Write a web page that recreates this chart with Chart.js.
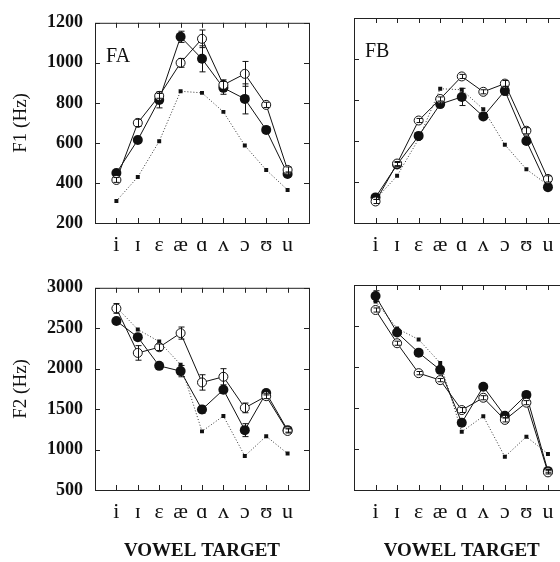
<!DOCTYPE html>
<html>
<head>
<meta charset="utf-8">
<script src="https://cdn.jsdelivr.net/npm/chart.js@4.4.1/dist/chart.umd.min.js"></script>
<style>
  html, body { margin: 0; padding: 0; background: #fff; overflow: hidden; width: 560px; height: 562px; }
  body { position: relative; }
  .panel { position: absolute; }
</style>
</head>
<body>
<div class="panel" style="left:0;top:0;width:330px;height:265px"><canvas id="faF1"></canvas></div>
<div class="panel" style="left:330px;top:0;width:250px;height:265px"><canvas id="fbF1"></canvas></div>
<div class="panel" style="left:0;top:265px;width:330px;height:297px"><canvas id="faF2"></canvas></div>
<div class="panel" style="left:330px;top:265px;width:250px;height:297px"><canvas id="fbF2"></canvas></div>
<script>
const vowels = ['i', 'ɪ', 'ɛ', 'æ', 'ɑ', 'ʌ', 'ɔ', 'ʊ', 'u'];

// FA, F1
const faF1Open = [415, 700, 835, 1000, 1120, 890, 945, 790, 465];
const faF1OpenErr = [12, 18, 12, 22, 44, 25, 62, 13, 15];
const faF1Filled = [450, 615, 815, 1130, 1020, 875, 820, 665, 445];
const faF1FilledErr = [10, 10, 40, 28, 65, 32, 75, 13, 10];
const faF1Target = [310, 430, 608, 858, 850, 755, 587, 465, 365];

// FB, F1
const fbF1Open = [305, 490, 700, 805, 915, 840, 880, 650, 415];
const fbF1OpenErr = [10, 10, 10, 10, 10, 10, 15, 15, 15];
const fbF1Filled = [325, 485, 625, 780, 815, 720, 845, 600, 375];
const fbF1FilledErr = [10, 10, 10, 10, 42, 10, 22, 10, 10];
const fbF1Target = [315, 430, 610, 855, 850, 755, 582, 462, 385];

// FA, F2
const faF2Open = [2745, 2195, 2265, 2440, 1830, 1900, 1515, 1660, 1230];
const faF2OpenErr = [60, 90, 40, 75, 95, 100, 60, 30, 25];
const faF2Filled = [2590, 2390, 2035, 1970, 1495, 1740, 1240, 1700, 1240];
const faF2FilledErr = [20, 20, 20, 70, 45, 25, 80, 25, 25];
const faF2Target = [2760, 2485, 2335, 2050, 1225, 1415, 920, 1165, 950];

// FB, F2
const fbF2Open = [2695, 2290, 1925, 1840, 1475, 1625, 1355, 1565, 715];
const fbF2OpenErr = [25, 25, 20, 20, 30, 25, 25, 25, 20];
const fbF2Filled = [2865, 2420, 2175, 1965, 1320, 1760, 1405, 1660, 730];
const fbF2FilledErr = [65, 25, 20, 25, 30, 25, 25, 30, 20];
const fbF2Target = [2800, 2470, 2335, 2050, 1210, 1400, 905, 1150, 940];

const serif = "'Liberation Serif', 'DejaVu Serif', serif";
const ink = '#111';

function toPts(arr) {
    return arr.map((v, i) => ({ x: i, y: v }));
}

// box around the plot with short ticks pointing inward, plus the speaker label
const frame = {
    id: 'frame',
    afterDraw(chart, args, opts) {
        const { ctx, chartArea: a, scales: { x, y } } = chart;
        ctx.save();
        ctx.strokeStyle = '#222';
        ctx.lineWidth = 1;
        ctx.strokeRect(a.left + 0.5, a.top + 0.5, a.right - a.left, a.bottom - a.top);
        ctx.beginPath();
        y.ticks.forEach(t => {
            const py = Math.round(y.getPixelForValue(t.value)) + 0.5;
            ctx.moveTo(a.left, py); ctx.lineTo(a.left + 5, py);
            ctx.moveTo(a.right, py); ctx.lineTo(a.right - 5, py);
        });
        vowels.forEach((v, i) => {
            const px = Math.round(x.getPixelForValue(i)) + 0.5;
            ctx.moveTo(px, a.top); ctx.lineTo(px, a.top + 5);
            ctx.moveTo(px, a.bottom); ctx.lineTo(px, a.bottom - 5);
        });
        ctx.stroke();
        ctx.fillStyle = ink;
        ctx.font = '20px ' + serif;
        ctx.fillText(opts.label, a.left + 11, a.top + 39);
        ctx.restore();
    }
};

const errorBars = {
    id: 'errorBars',
    afterDatasetsDraw(chart) {
        const { ctx, scales: { x, y } } = chart;
        ctx.save();
        ctx.strokeStyle = ink;
        ctx.lineWidth = 1;
        chart.data.datasets.forEach(ds => {
            if (!ds.errors) return;
            ds.data.forEach((p, i) => {
                const e = ds.errors[i];
                const px = Math.round(x.getPixelForValue(p.x)) + 0.5;
                const top = y.getPixelForValue(p.y + e);
                const bot = y.getPixelForValue(p.y - e);
                ctx.beginPath();
                ctx.moveTo(px, top); ctx.lineTo(px, bot);
                ctx.moveTo(px - 3, top); ctx.lineTo(px + 3, top);
                ctx.moveTo(px - 3, bot); ctx.lineTo(px + 3, bot);
                ctx.stroke();
            });
        });
        ctx.restore();
    }
};

function panel(id, p) {
    new Chart(document.getElementById(id), {
        type: 'line',
        data: {
            datasets: [
                {
                    label: 'Open',
                    data: toPts(p.open),
                    errors: p.openErr,
                    borderColor: ink,
                    borderWidth: 1,
                    pointStyle: 'circle',
                    pointRadius: 4.5,
                    pointBorderWidth: 1,
                    pointBackgroundColor: '#fff',
                    pointBorderColor: ink
                },
                {
                    label: 'Filled',
                    data: toPts(p.filled),
                    errors: p.filledErr,
                    borderColor: ink,
                    borderWidth: 1,
                    pointStyle: 'circle',
                    pointRadius: 5,
                    pointBorderWidth: 0,
                    pointBackgroundColor: ink
                },
                {
                    label: 'Target',
                    data: toPts(p.target),
                    borderColor: '#333',
                    borderWidth: 1,
                    borderDash: [1, 2],
                    pointStyle: 'rect',
                    pointRadius: 2.8,
                    pointBorderWidth: 0,
                    pointBackgroundColor: ink
                }
            ]
        },
        options: {
            responsive: true,
            maintainAspectRatio: false,
            animation: false,
            layout: { padding: { top: p.padTop, right: p.padRight, left: 0, bottom: 0 } },
            scales: {
                x: {
                    type: 'linear',
                    min: -1,
                    max: 9,
                    grid: { display: false, drawTicks: false },
                    border: { display: false },
                    afterFit: s => { s.height = p.xHeight; },
                    ticks: {
                        stepSize: 1,
                        autoSkip: false,
                        maxRotation: 0,
                        padding: 9,
                        color: ink,
                        font: { size: 22, family: serif },
                        callback: v => vowels[v] ?? ''
                    },
                    title: {
                        display: p.xTitle,
                        text: 'VOWEL TARGET',
                        color: ink,
                        padding: { top: 0, bottom: 0 },
                        font: { size: 19, weight: 'bold', family: serif }
                    }
                },
                y: {
                    min: p.yMin,
                    max: p.yMax,
                    grid: { display: false, drawTicks: false },
                    border: { display: false },
                    afterFit: s => { s.width = p.yWidth; },
                    ticks: {
                        stepSize: p.yStep,
                        display: p.yLabels,
                        padding: 12,
                        color: ink,
                        font: { size: 18, weight: 'bold', family: serif },
                        callback: v => String(v)
                    },
                    title: {
                        display: p.yLabels,
                        text: p.yTitle,
                        color: ink,
                        padding: { top: 10, bottom: 0 },
                        font: { size: 19, family: serif }
                    }
                }
            },
            plugins: {
                legend: { display: false },
                tooltip: { enabled: false },
                frame: { label: p.label }
            }
        },
        plugins: [frame, errorBars]
    });
}

panel('faF1', {
    open: faF1Open, openErr: faF1OpenErr, filled: faF1Filled, filledErr: faF1FilledErr, target: faF1Target,
    yMin: 200, yMax: 1200, yStep: 200, yTitle: 'F1 (Hz)', yLabels: true, label: 'FA',
    xTitle: false, yWidth: 95, xHeight: 42, padTop: 18, padRight: 21
});
panel('fbF1', {
    open: fbF1Open, openErr: fbF1OpenErr, filled: fbF1Filled, filledErr: fbF1FilledErr, target: fbF1Target,
    yMin: 200, yMax: 1200, yStep: 200, yTitle: 'F1 (Hz)', yLabels: false, label: 'FB',
    xTitle: false, yWidth: 24, xHeight: 42, padTop: 18, padRight: 10.5
});
panel('faF2', {
    open: faF2Open, openErr: faF2OpenErr, filled: faF2Filled, filledErr: faF2FilledErr, target: faF2Target,
    yMin: 500, yMax: 3000, yStep: 500, yTitle: 'F2 (Hz)', yLabels: true, label: '',
    xTitle: true, yWidth: 95, xHeight: 72, padTop: 20, padRight: 21
});
panel('fbF2', {
    open: fbF2Open, openErr: fbF2OpenErr, filled: fbF2Filled, filledErr: fbF2FilledErr, target: fbF2Target,
    yMin: 500, yMax: 3000, yStep: 500, yTitle: 'F2 (Hz)', yLabels: false, label: '',
    xTitle: true, yWidth: 24, xHeight: 72, padTop: 20, padRight: 10.5
});
</script>
</body>
</html>
